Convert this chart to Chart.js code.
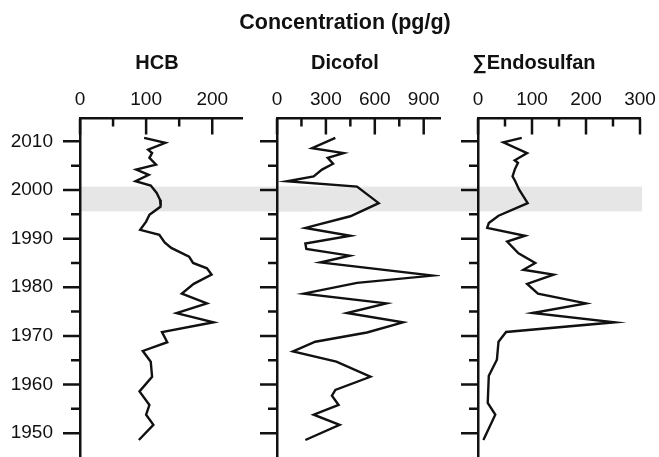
<!DOCTYPE html>
<html>
<head>
<meta charset="utf-8">
<script src="https://cdn.jsdelivr.net/npm/chart.js@4.4.1/dist/chart.umd.min.js"></script>
<style>
  body { margin: 0; background: #fff; }
  #wrap { position: relative; width: 659px; height: 457px; overflow: hidden; }
  .panel { position: absolute; top: 0; height: 457px; }
</style>
</head>
<body>
<div id="wrap">
  <div class="panel" style="left:0;width:314px"><canvas id="hcb"></canvas></div>
  <div class="panel" style="left:212px;width:266px"><canvas id="dicofol"></canvas></div>
  <div class="panel" style="left:428px;width:231px"><canvas id="endo"></canvas></div>
</div>
<script>
// sediment core profiles, year vs concentration (pg/g)
const hcbYears = [2010.7, 2009.7, 2008.3, 2007.6, 2006.6, 2005.2, 2004.2, 2003.1, 2001.8, 2000.9,
  1999.4, 1998.0, 1996.6, 1994.9, 1993.5, 1991.8, 1990.8, 1989.2, 1988.1, 1986.3,
  1985.0, 1983.9, 1982.6, 1980.7, 1978.7, 1976.7, 1974.7, 1972.8, 1970.8, 1968.7,
  1966.9, 1964.7, 1961.6, 1958.6, 1955.8, 1953.8, 1951.7, 1948.6];
const hcbValues = [97, 129, 103, 109, 105, 115, 85, 104, 84, 107,
  116, 121, 122, 105, 100, 91, 120, 128, 138, 165,
  171, 192, 199, 172, 154, 192, 146, 202, 124, 132,
  95, 107, 109, 90, 105, 100, 111, 89];

const dicofolYears = [2010.7, 2008.6, 2007.6, 2006.6, 2005.4, 2004.2, 2002.8, 2001.8, 2000.7, 1997.3,
  1994.6, 1992.2, 1990.6, 1989.0, 1987.9, 1986.5, 1985.1, 1982.4, 1980.9, 1978.7,
  1976.7, 1974.7, 1972.8, 1970.7, 1968.8, 1966.8, 1964.7, 1961.6, 1958.9, 1957.7,
  1955.8, 1953.8, 1951.7, 1948.6];
const dicofolValues = [358, 215, 409, 311, 344, 276, 225, 61, 491, 624,
  450, 174, 450, 174, 180, 446, 266, 957, 491, 164,
  671, 429, 773, 552, 235, 98, 364, 573, 358, 337,
  378, 225, 384, 174];

const endoYears = [2010.7, 2009.8, 2007.6, 2006.1, 2005.6, 2004.2, 2002.8, 2001.8, 2000.1, 1997.3,
  1994.7, 1993.2, 1992.2, 1990.6, 1989.4, 1987.0, 1985.0, 1983.6, 1982.6, 1980.7,
  1978.7, 1976.7, 1974.7, 1972.8, 1970.8, 1968.8, 1965.1, 1961.8, 1956.2, 1953.8,
  1948.6];
const endoValues = [81, 47, 91, 68, 74, 68, 64, 69, 76, 92,
  38, 20, 17, 87, 54, 75, 106, 84, 140, 91,
  111, 200, 101, 253, 52, 38, 35, 20, 18, 32,
  10];

const yearTicks = [1950, 1960, 1970, 1980, 1990, 2000, 2010];
const yearMinor = [1955, 1965, 1975, 1985, 1995, 2005];
const hcbTicks = [0, 100, 200];
const hcbMinor = [50, 150];
const dicofolTicks = [0, 300, 600, 900];
const dicofolMinor = [150, 450, 750];
const endoTicks = [0, 100, 200, 300];
const endoMinor = [50, 150, 250];
const bandYears = [1995.6, 2000.7]; // shaded period

Chart.defaults.font.family = '"Liberation Sans", Arial, Helvetica, sans-serif';
Chart.defaults.color = '#111';

// shaded band + major/minor tick marks
const profileMarks = {
  id: 'profileMarks',
  beforeDraw(chart, args, opts) {
    const { ctx, chartArea, scales: { y } } = chart;
    const top = y.getPixelForValue(bandYears[1]);
    const bottom = y.getPixelForValue(bandYears[0]);
    const right = opts.bandToEdge ? chart.width : chartArea.right + 2;
    ctx.save();
    ctx.fillStyle = '#e6e6e6';
    ctx.fillRect(chartArea.left, top, right - chartArea.left, bottom - top);
    ctx.restore();
  },
  afterDraw(chart, args, opts) {
    const { ctx, chartArea, scales: { x, y } } = chart;
    ctx.save();
    ctx.strokeStyle = '#111';
    ctx.lineWidth = 2.5;
    ctx.beginPath();
    yearTicks.forEach(v => {
      const py = y.getPixelForValue(v);
      ctx.moveTo(chartArea.left, py);
      ctx.lineTo(chartArea.left - 17, py);
    });
    yearMinor.forEach(v => {
      const py = y.getPixelForValue(v);
      ctx.moveTo(chartArea.left, py);
      ctx.lineTo(chartArea.left - 9, py);
    });
    opts.major.forEach(v => {
      const px = x.getPixelForValue(v);
      ctx.moveTo(px, chartArea.top);
      ctx.lineTo(px, chartArea.top + 16);
    });
    opts.minor.forEach(v => {
      const px = x.getPixelForValue(v);
      ctx.moveTo(px, chartArea.top);
      ctx.lineTo(px, chartArea.top + 8);
    });
    ctx.stroke();
    ctx.restore();
  }
};

function makePanel(id, cfg) {
  return new Chart(document.getElementById(id), {
    type: 'line',
    data: {
      datasets: [{
        data: cfg.years.map((yr, i) => ({ x: cfg.values[i], y: yr })),
        borderColor: '#111',
        borderWidth: 2.4,
        pointRadius: 0,
        tension: 0,
        fill: false
      }]
    },
    options: {
      animation: false,
      responsive: true,
      maintainAspectRatio: false,
      layout: { padding: { left: 0, right: cfg.padRight, top: 0, bottom: 0 } },
      plugins: {
        legend: { display: false },
        tooltip: { enabled: false },
        title: {
          display: true,
          text: cfg.heading || ' ',
          font: { size: 21.5, weight: 'bold' },
          padding: { top: 10, bottom: 0 }
        },
        subtitle: {
          display: true,
          text: cfg.title,
          font: { size: 20, weight: 'bold' },
          padding: { top: 16, bottom: 0 }
        },
        profileMarks: { major: cfg.ticks, minor: cfg.minor, bandToEdge: cfg.bandToEdge }
      },
      scales: {
        x: {
          type: 'linear',
          position: 'top',
          min: 0,
          max: cfg.max,
          grid: { display: false, drawTicks: false },
          border: { display: true, color: '#111', width: 2.5 },
          ticks: { font: { size: 19 }, padding: 7, callback: v => String(v) },
          afterBuildTicks: s => { s.ticks = cfg.ticks.map(v => ({ value: v })); },
          afterFit: s => { s.height = 42.7; s.paddingLeft = 0; s.paddingRight = 0; }
        },
        y: {
          type: 'linear',
          position: 'left',
          min: 1945.1,
          max: 2014.7,
          grid: { display: false, drawTicks: false },
          border: { display: true, color: '#111', width: 2.5 },
          ticks: { display: cfg.yLabels, font: { size: 19 }, padding: 27, callback: v => String(v) },
          afterBuildTicks: s => { s.ticks = yearTicks.map(v => ({ value: v })); },
          afterFit: s => { s.width = cfg.axisWidth; s.paddingTop = 0; s.paddingBottom = 0; }
        },
        // empty spacer so the titles can run past the plot's right edge
        gap: {
          type: 'linear',
          position: 'right',
          display: cfg.rightGap > 0,
          grid: { display: false, drawTicks: false },
          border: { display: false },
          ticks: { display: false },
          afterFit: s => { s.width = cfg.rightGap; s.paddingTop = 0; s.paddingBottom = 0; }
        }
      }
    },
    plugins: [profileMarks]
  });
}

makePanel('hcb', {
  title: 'HCB', years: hcbYears, values: hcbValues, max: 245,
  ticks: hcbTicks, minor: hcbMinor, yLabels: true,
  padRight: 0, rightGap: 72, axisWidth: 80, bandToEdge: true
});
makePanel('dicofol', {
  heading: 'Concentration (pg/g)', title: 'Dicofol', years: dicofolYears, values: dicofolValues, max: 1000,
  ticks: dicofolTicks, minor: dicofolMinor, yLabels: false,
  padRight: 0, rightGap: 38, axisWidth: 65, bandToEdge: true
});
makePanel('endo', {
  title: '∑Endosulfan', years: endoYears, values: endoValues, max: 300,
  ticks: endoTicks, minor: endoMinor, yLabels: false,
  padRight: 19, rightGap: 0, axisWidth: 50, bandToEdge: false
});
</script>
</body>
</html>
